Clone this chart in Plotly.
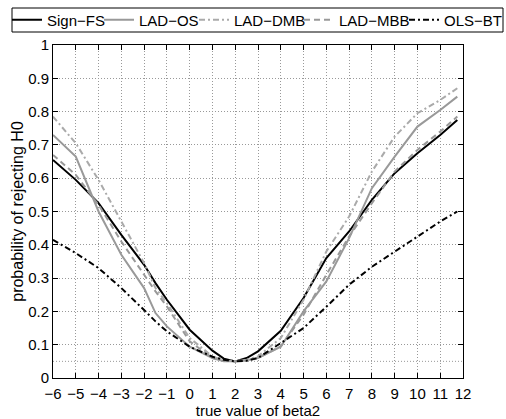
import plotly.graph_objects as go

x_vals = [-6, -5, -4, -3, -2, -1.5, -1, 0, 1, 1.5, 2, 2.5, 3, 4, 5, 6, 7, 8, 9, 10, 11, 11.75]

sign_fs = [0.655, 0.595, 0.525, 0.43, 0.34, 0.285, 0.235, 0.145, 0.082, 0.058, 0.05, 0.06, 0.08, 0.142, 0.24, 0.36, 0.44, 0.535, 0.615, 0.675, 0.73, 0.775]
lad_os = [0.73, 0.665, 0.50, 0.37, 0.27, 0.195, 0.155, 0.094, 0.06, 0.05, 0.05, 0.053, 0.06, 0.094, 0.2, 0.29, 0.42, 0.57, 0.665, 0.755, 0.805, 0.845]
lad_dmb = [0.785, 0.705, 0.595, 0.47, 0.345, 0.27, 0.225, 0.12, 0.065, 0.053, 0.05, 0.055, 0.065, 0.12, 0.235, 0.38, 0.485, 0.62, 0.725, 0.795, 0.835, 0.87]
lad_mbb = [0.67, 0.61, 0.52, 0.41, 0.31, 0.26, 0.215, 0.11, 0.06, 0.052, 0.05, 0.053, 0.06, 0.095, 0.19, 0.31, 0.425, 0.525, 0.62, 0.685, 0.74, 0.785]
ols_bt = [0.415, 0.375, 0.33, 0.27, 0.204, 0.17, 0.14, 0.094, 0.064, 0.055, 0.05, 0.052, 0.06, 0.105, 0.15, 0.214, 0.28, 0.334, 0.38, 0.424, 0.47, 0.5]

series_names = ["Sign\u2212FS", "LAD\u2212OS", "LAD\u2212DMB", "LAD\u2212MBB", "OLS\u2212BT"]
series_vals = [sign_fs, lad_os, lad_dmb, lad_mbb, ols_bt]
series_style = [
    dict(color="#000000", width=2, dash="solid"),
    dict(color="#999999", width=2, dash="solid"),
    dict(color="#aaaaaa", width=2, dash="6px,3px,2px,3px"),
    dict(color="#999999", width=2, dash="6px,4px"),
    dict(color="#000000", width=2, dash="6px,3px,2px,3px"),
]
# legend placement (which legend box, entry width) - styling only
legend_ids = ["legend", "legend", "legend", "legend2", "legend2"]
legend_widths = [47, 50, 76, 60, 72]

x_ticks = list(range(-6, 13))
y_ticks = [0, 0.1, 0.2, 0.3, 0.4, 0.5, 0.6, 0.7, 0.8, 0.9, 1]
y_ticklabels = ["0", "0.1", "0.2", "0.3", "0.4", "0.5", "0.6", "0.7", "0.8", "0.9", "1"]

fig = go.Figure()
for name, vals, st, lg, lw in zip(series_names, series_vals, series_style, legend_ids, legend_widths):
    fig.add_trace(go.Scatter(x=x_vals, y=vals, mode="lines", name=name, line=st,
                             legend=lg, legendwidth=lw))

font_family = "Liberation Sans, Arial, Helvetica, sans-serif"

# extra dotted reference line at the nominal level
fig.add_shape(type="line", xref="x", yref="y", x0=-6, x1=12, y0=0.05, y1=0.05,
              line=dict(color="#999999", width=1, dash="1px,2px"), layer="below")

# legend frame
px_w, px_l, px_t, px_h = 410, 53, 45, 333
def px_to_paper_x(p):
    return (p - px_l) / px_w
def px_to_paper_y(p):
    return 1 + (px_t - p) / px_h

fig.add_shape(type="rect", xref="paper", yref="paper",
              x0=px_to_paper_x(12), x1=px_to_paper_x(503),
              y0=px_to_paper_y(32), y1=px_to_paper_y(8),
              line=dict(color="black", width=1), fillcolor="white", layer="below")

legend_common = dict(
    orientation="h", xanchor="left", yanchor="middle",
    borderwidth=0, bgcolor="rgba(0,0,0,0)",
    font=dict(size=15), itemwidth=30,
)

fig.update_layout(
    width=506, height=419,
    margin=dict(l=53, r=43, t=45, b=41, autoexpand=False),
    paper_bgcolor="white", plot_bgcolor="white",
    font=dict(family=font_family, size=15, color="black"),
    showlegend=True,
    legend=dict(x=px_to_paper_x(7), y=px_to_paper_y(20), **legend_common),
    legend2=dict(x=px_to_paper_x(299), y=px_to_paper_y(20), **legend_common),
    xaxis=dict(
        range=[-6, 12], tickmode="array", tickvals=x_ticks,
        showline=True, linecolor="black", linewidth=1, mirror="ticks",
        ticks="inside", ticklen=5, tickcolor="black",
        showgrid=True, gridcolor="#999999", griddash="1px,2px", gridwidth=1,
        zeroline=False, tickfont=dict(size=15), ticklabelstandoff=2,
        title=dict(text="true value of beta2", font=dict(size=15), standoff=0),
    ),
    yaxis=dict(
        range=[0, 1], tickmode="array", tickvals=y_ticks, ticktext=y_ticklabels,
        showline=True, linecolor="black", linewidth=1, mirror="ticks",
        ticks="inside", ticklen=5, tickcolor="black",
        showgrid=True, gridcolor="#999999", griddash="1px,2px", gridwidth=1,
        zeroline=False, tickfont=dict(size=15),
        title=dict(text="probability of rejecting H0", font=dict(size=16), standoff=0),
    ),
)

fig.write_html("out.html", config={"displayModeBar": False},
               post_script="document.body.style.margin='0';")
